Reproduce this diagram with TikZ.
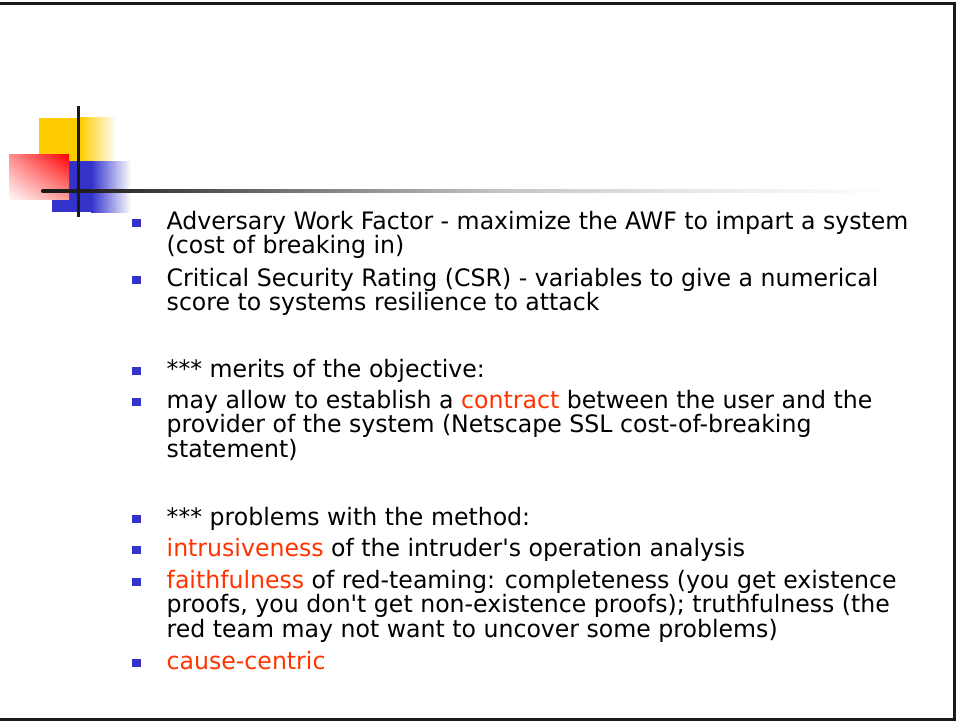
\documentclass[tikz,border=0pt]{standalone}
\usepackage{fontspec}
\setmainfont{DejaVu Sans}[FakeStretch=0.984, Ligatures=TeXOff]
\usetikzlibrary{shadings}
\definecolor{hl}{HTML}{FF3300}
\definecolor{bulc}{HTML}{3333CC}
\definecolor{yel}{HTML}{FFCC00}
\definecolor{blu}{HTML}{3333CC}
\definecolor{dk}{HTML}{1A1A1A}
\pgfdeclarehorizontalshading{rulesh}{100bp}{color(0bp)=(black!90); color(25bp)=(black!90); color(27.5bp)=(black!88); color(40bp)=(black!53); color(52bp)=(black!23); color(63.5bp)=(black!9); color(75bp)=(white); color(100bp)=(white)}
\begin{document}
\begin{tikzpicture}[x=1pt,y=-1pt,
  txt/.style={anchor=base west, inner sep=0pt, font=\fontsize{24}{26}\selectfont},
  bul/.style={fill=bulc, minimum size=8.5pt, inner sep=0pt, anchor=south west},
  red/.style={text=hl}]
\useasboundingbox (0,0) rectangle (956,721);
\fill[white] (0,0) rectangle (956,721);
% border
\draw[line width=3pt, dk] (0,3.4) -- (954,3.4) -- (954,719.5) -- (0,719.5);
% decoration
\fill[yel] (39,117.5) rectangle (80,162);
\shade[left color=yel, right color=white] (80,117.5) rectangle (116,162);
\fill[blu] (52,161) rectangle (91,212);
\shade[left color=blu, right color=white] (91,161) rectangle (131,212);
\shade[upper right=red, upper left=red!45, lower right=red!40, lower left=red!3] (9,154) rectangle (69,199);
\shade[shading=rulesh] (41.7,189) rectangle (893,192.7);
\fill[dk] (76.5,106) rectangle (80,217);
% bullets
\foreach \n/\y in {1/229,3/286,6/377,7/408,10/525,11/556,12/588,15/669}
  \node[bul] (b\n) at (132,\y-1.5) {};
% text
\node[txt] (l1) at (166.5,229) {Adversary Work Factor - maximize the AWF to impart a system};
\node[txt] (l2) at (166.5,253.5) {(cost of breaking in)};
\node[txt] (l3) at (166.5,286) {Critical Security Rating (CSR) - variables to give a numerical};
\node[txt] (l4) at (166.5,310.5) {score to systems resilience to attack};
\node[txt] (l6) at (166.5,377) {*** merits of the objective:};
\node[txt] (l7) at (166.5,408) {may allow to establish a \textcolor{hl}{contract} between the user and the};
\node[txt] (l8) at (166.5,432.5) {provider of the system (Netscape SSL cost-of-breaking};
\node[txt] (l9) at (166.5,457) {statement)};
\node[txt] (l10) at (166.5,525) {*** problems with the method:};
\node[txt] (l11) at (166.5,556) {\textcolor{hl}{intrusiveness} of the intruder's operation analysis};
\node[txt] (l12) at (166.5,588) {\textcolor{hl}{faithfulness} of red-teaming: completeness (you get existence};
\node[txt] (l13) at (166.5,612.5) {proofs, you don't get non-existence proofs); truthfulness (the};
\node[txt] (l14) at (166.5,637) {red team may not want to uncover some problems)};
\node[txt, red] (l15) at (166.5,669) {cause-centric};
\end{tikzpicture}
\end{document}
